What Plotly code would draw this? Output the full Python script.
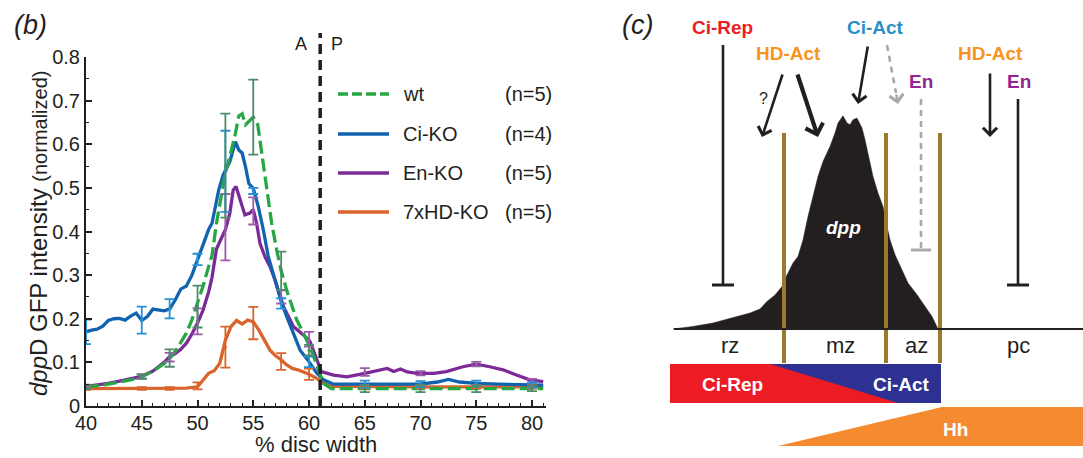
import plotly.graph_objects as go

W, H = 1083, 458
FONT = "Liberation Sans, Arial, Helvetica, sans-serif"
INK = "#231F20"

# ---------------- panel (b): dppD GFP profiles ----------------
series_names = ["wt", "Ci-KO", "En-KO", "7xHD-KO"]
series_n = ["(n=5)", "(n=4)", "(n=5)", "(n=5)"]
series_colors = ["#27A744", "#1163AF", "#7B2A98", "#D9642C"]
errbar_colors = ["#4E8A6A", "#2590D6", "#9B5CA8", "#D9642C"]

wt_x = [40, 41, 42, 43, 44, 45, 46, 47, 47.5, 48, 48.5, 49, 49.5, 50, 50.5, 51, 51.3, 51.7,
        52.2, 52.5, 52.9, 53.4, 53.7, 54.0, 54.3, 54.6, 55.0, 55.4, 55.8, 56.2, 56.65, 57.1,
        57.5, 58.0, 58.3, 58.9, 59.5, 60.2, 60.8, 61.3, 62.0, 65, 70, 75, 80, 81]
wt_y = [0.043, 0.046, 0.05, 0.055, 0.06, 0.067, 0.08, 0.097, 0.109, 0.125, 0.145, 0.167, 0.198,
        0.236, 0.275, 0.32, 0.345, 0.419, 0.495, 0.534, 0.572, 0.625, 0.665, 0.67, 0.645, 0.652,
        0.662, 0.645, 0.572, 0.495, 0.419, 0.358, 0.31, 0.265, 0.243, 0.197, 0.167, 0.128,
        0.086, 0.052, 0.04, 0.04, 0.04, 0.04, 0.04, 0.04]

ci_x = [40, 40.5, 41, 41.5, 42, 42.5, 43, 43.5, 44, 44.5, 45, 45.5, 46, 46.5, 47, 47.5, 48,
        48.5, 49, 49.5, 50, 50.5, 51, 51.3, 51.9, 52.3, 52.9, 53.4, 53.7, 54.0, 54.3, 54.6,
        55.0, 55.45, 55.9, 56.35, 56.8, 57.25, 57.5, 58.0, 58.6, 59.2, 59.9, 60.7, 61.3, 62.2,
        65, 68, 70, 71.5, 72.5, 73.5, 75, 77, 80, 81]
ci_y = [0.17, 0.174, 0.176, 0.183, 0.196, 0.2, 0.201, 0.197, 0.206, 0.213, 0.196, 0.205, 0.222,
        0.22, 0.218, 0.222, 0.243, 0.268, 0.275, 0.3, 0.335, 0.375, 0.405, 0.419, 0.495, 0.53,
        0.56, 0.606, 0.587, 0.58, 0.549, 0.51, 0.499, 0.457, 0.404, 0.342, 0.304, 0.266, 0.24,
        0.205, 0.167, 0.128, 0.105, 0.075, 0.06, 0.05, 0.05, 0.05, 0.05, 0.055, 0.061, 0.055,
        0.052, 0.05, 0.048, 0.048]

en_x = [40, 41, 42, 43, 44, 45, 46, 47, 47.5, 48, 48.5, 49, 49.5, 50, 50.5, 51, 51.3, 51.7,
        52.2, 52.5, 52.9, 53.2, 53.45, 53.8, 54.25, 54.7, 55.0, 55.3, 55.6, 56.05, 56.5, 56.95,
        57.3, 57.7, 58.6, 59.5, 60.1, 60.7, 61.1, 62.2, 63.4, 65, 66.3, 67.0, 67.6, 68.2, 68.8,
        69.7, 71.2, 72.3, 73.8, 75.0, 76.2, 77.4, 78.6, 79.8, 81]
en_y = [0.045, 0.048, 0.052, 0.057, 0.062, 0.068, 0.08, 0.1, 0.113, 0.12, 0.13, 0.144, 0.165,
        0.19, 0.22, 0.262, 0.295, 0.36, 0.388, 0.404, 0.442, 0.495, 0.503, 0.472, 0.438, 0.442,
        0.45, 0.419, 0.373, 0.342, 0.32, 0.289, 0.26, 0.228, 0.182, 0.163, 0.147, 0.105, 0.079,
        0.071, 0.067, 0.075, 0.082, 0.086, 0.079, 0.085, 0.078, 0.075, 0.075, 0.079, 0.09, 0.096,
        0.09, 0.083, 0.071, 0.06, 0.056]

hd_x = [40, 45, 47.5, 49, 50, 50.5, 51, 51.5, 52, 52.5, 53, 53.5, 54, 54.5, 55, 55.5, 56, 56.5,
        57, 57.5, 58, 58.5, 59, 59.5, 60, 60.5, 61, 61.5, 62, 65, 70, 75, 80, 81]
hd_y = [0.04, 0.04, 0.04, 0.041, 0.044, 0.06, 0.075, 0.081, 0.098, 0.151, 0.182, 0.196, 0.188,
        0.197, 0.193, 0.174, 0.151, 0.128, 0.115, 0.106, 0.094, 0.086, 0.083, 0.079, 0.073,
        0.066, 0.058, 0.05, 0.045, 0.044, 0.044, 0.044, 0.044, 0.044]

# mean +/- s.e.m. at the sampled positions
err_x = [40, 45, 47.5, 50, 52.5, 55, 57.5, 60, 65, 70, 75, 80]
wt_mean = [0.043, 0.067, 0.11, 0.228, 0.551, 0.662, 0.31, 0.128, 0.04, 0.04, 0.04, 0.04]
wt_err = [0.004, 0.005, 0.02, 0.048, 0.119, 0.086, 0.044, 0.012, 0.008, 0.008, 0.008, 0.006]
ci_mean = [0.17, 0.197, 0.223, 0.336, 0.538, 0.493, 0.235, 0.101, 0.05, 0.05, 0.052, 0.048]
ci_err = [0.028, 0.031, 0.022, 0.013, 0.093, 0.007, 0.012, 0.012, 0.008, 0.007, 0.006, 0.006]
en_mean = [0.045, 0.068, 0.112, 0.194, 0.41, 0.447, 0.25, 0.153, 0.078, 0.075, 0.096, 0.058]
en_err = [0.004, 0.005, 0.01, 0.03, 0.076, 0.031, 0.015, 0.017, 0.009, 0.005, 0.005, 0.004]
hd_mean = [0.04, 0.04, 0.04, 0.046, 0.135, 0.19, 0.102, 0.073, 0.044, 0.044, 0.044, 0.044]
hd_err = [0.003, 0.003, 0.003, 0.008, 0.047, 0.037, 0.019, 0.013, 0.004, 0.004, 0.004, 0.004]

boundary_ap = 61  # A/P compartment boundary, % disc width

x_ticks = [40, 45, 50, 55, 60, 65, 70, 75, 80]
y_ticks = [0, 0.1, 0.2, 0.3, 0.4, 0.5, 0.6, 0.7, 0.8]

curves = [(wt_x, wt_y), (ci_x, ci_y), (en_x, en_y), (hd_x, hd_y)]
errs = [(wt_mean, wt_err), (ci_mean, ci_err), (en_mean, en_err), (hd_mean, hd_err)]

# ---------------- panel (c): schematic ----------------
# diagram units: x along the disc, y = height above the dpp baseline
dpp_x = [673, 693, 713, 733, 750, 760, 767, 775, 782, 787, 793, 798, 803, 808, 813, 818, 823,
         830, 835, 838, 843, 847, 850, 853, 857, 862, 865, 869, 873, 878, 883, 887, 890, 895,
         902, 908, 917, 925, 932, 938]
dpp_h = [0, 2.6, 6, 11, 16, 20, 27.6, 34, 42.6, 54, 66, 72.6, 89, 112.6, 132.6, 152.6, 167.6,
         182.6, 196, 206, 213.3, 206, 204.3, 209.3, 211, 201, 189.3, 169.3, 152.6, 136, 122.6,
         102.6, 89.3, 74.3, 59.3, 46, 34.3, 22.6, 12.6, 0]

zone_edges = [784, 886, 940]
zone_labels = ["rz", "mz", "az", "pc"]
zone_label_x = [730, 840, 916, 1018]

fig = go.Figure()

# --- panel (b) traces: draw order orange, purple, blue, green
for i in [3, 2, 1, 0]:
    xs, ys = curves[i]
    fig.add_trace(go.Scatter(
        x=xs, y=ys, mode="lines", showlegend=False, hoverinfo="skip",
        line=dict(color=series_colors[i], width=3.3,
                  dash="13px,5px" if i == 0 else "solid"),
        xaxis="x", yaxis="y"))

for i in [3, 2, 1, 0]:
    m, e = errs[i]
    fig.add_trace(go.Scatter(
        x=err_x, y=m, mode="markers", showlegend=False, hoverinfo="skip",
        marker=dict(size=3, color=errbar_colors[i]),
        error_y=dict(type="data", array=e, color=errbar_colors[i], thickness=1.8, width=5),
        xaxis="x", yaxis="y"))

# --- panel (c) filled regions
fig.add_trace(go.Scatter(
    x=dpp_x, y=dpp_h, mode="lines", fill="toself", fillcolor=INK,
    line=dict(color=INK, width=0.5), showlegend=False, hoverinfo="skip",
    xaxis="x2", yaxis="y2"))

ci_bar_left, ci_bar_right, ci_bar_top, ci_bar_bottom = 670, 941, -35, -74
rep_top_x, rep_bottom_x = 770, 898
fig.add_trace(go.Scatter(
    x=[ci_bar_left, ci_bar_right, ci_bar_right, ci_bar_left, ci_bar_left],
    y=[ci_bar_top, ci_bar_top, ci_bar_bottom, ci_bar_bottom, ci_bar_top],
    mode="lines", fill="toself", fillcolor="#2E3192", line=dict(width=0),
    showlegend=False, hoverinfo="skip", xaxis="x2", yaxis="y2"))
fig.add_trace(go.Scatter(
    x=[ci_bar_left, rep_top_x, rep_bottom_x, ci_bar_left, ci_bar_left],
    y=[ci_bar_top, ci_bar_top, ci_bar_bottom, ci_bar_bottom, ci_bar_top],
    mode="lines", fill="toself", fillcolor="#ED1C24", line=dict(width=0),
    showlegend=False, hoverinfo="skip", xaxis="x2", yaxis="y2"))

hh_x = [778, 942, 1083, 1083, 778]
hh_y = [-117, -78, -78, -117, -117]
fig.add_trace(go.Scatter(
    x=hh_x, y=hh_y, mode="lines", fill="toself", fillcolor="#F58A31", line=dict(width=0),
    showlegend=False, hoverinfo="skip", xaxis="x2", yaxis="y2"))


def px(x):
    return x / W


def py(y):
    return 1 - y / H


shapes = []
annotations = []


def paper_text(x, y, text, size, xanchor="center", angle=0):
    annotations.append(dict(xref="paper", yref="paper", x=px(x), y=py(y), text=text,
                            showarrow=False, xanchor=xanchor, yanchor="middle",
                            textangle=angle, font=dict(size=size, color=INK, family=FONT)))


# A/P boundary
shapes.append(dict(type="line", xref="x", yref="paper", x0=boundary_ap, x1=boundary_ap,
                   y0=py(406), y1=py(33), line=dict(color=INK, width=3.5, dash="10px,6px")))

# legend
leg_y = [94, 134, 173, 212]
for i, name in enumerate(series_names):
    shapes.append(dict(type="line", xref="paper", yref="paper", x0=px(338), x1=px(389),
                       y0=py(leg_y[i]), y1=py(leg_y[i]),
                       line=dict(color=series_colors[i], width=3.3,
                                 dash="10px,4px" if i == 0 else "solid")))
    paper_text(401, leg_y[i], name, 20, xanchor="left")
    paper_text(503, leg_y[i], series_n[i], 20, xanchor="left")

paper_text(30, 25, "<i>(b)</i>", 27)
paper_text(301, 44, "A", 18)
paper_text(337, 44, "P", 18)
paper_text(316, 444, "% disc width", 22)
paper_text(38, 234, "<i>dpp</i>D GFP intensity <span style='font-size:20px'>(normalized)</span>",
           24, angle=-90)

# --- panel (c) lines
brown = "#9C7A2B"
for xe in zone_edges:
    shapes.append(dict(type="line", xref="x2", yref="y2", x0=xe, x1=xe, y0=-34, y1=196,
                       line=dict(color=brown, width=4)))
shapes.append(dict(type="line", xref="x2", yref="y2", x0=674, x1=1083, y0=0, y1=0,
                   line=dict(color=INK, width=2)))


def t_bar(x, y_top, y_end, half, color, dash="solid"):
    shapes.append(dict(type="line", xref="x2", yref="y2", x0=x, x1=x, y0=y_top, y1=y_end,
                       line=dict(color=color, width=2.6, dash=dash)))
    shapes.append(dict(type="line", xref="x2", yref="y2", x0=x - half, x1=x + half,
                       y0=y_end, y1=y_end, line=dict(color=color, width=3)))


t_bar(723, 284, 44, 11, INK)
t_bar(921, 230, 79, 10, "#A7A9AC", dash="6px,5px")
t_bar(1018, 230, 44, 11, INK)


def arrow(x_tail, y_tail, x_head, y_head, width, size, color=INK):
    annotations.append(dict(xref="x2", yref="y2", axref="x2", ayref="y2", x=x_head, y=y_head,
                            ax=x_tail, ay=y_tail, text="", showarrow=True, arrowhead=4,
                            arrowsize=size, arrowwidth=width, arrowcolor=color, standoff=0))


arrow(783, 256, 762, 192, 2.6, 1.05)
arrow(797, 256, 818, 192, 4.2, 0.85)
arrow(868, 284, 858, 225, 2.6, 1.05)
arrow(990, 257, 990, 192, 2.6, 1.05)
# dashed grey arrow: dashed shaft plus a short solid head
shapes.append(dict(type="line", xref="x2", yref="y2", x0=887, x1=896, y0=284, y1=236,
                   line=dict(color="#A7A9AC", width=2.6, dash="6px,5px")))
arrow(896, 236, 898, 225, 2.6, 1.05, color="#A7A9AC")


def label(x, y, text, color, size=19, bold=True, italic=False):
    t = text
    if bold:
        t = "<b>" + t + "</b>"
    if italic:
        t = "<i>" + t + "</i>"
    annotations.append(dict(xref="x2", yref="y2", x=x, y=y, text=t, showarrow=False,
                            xanchor="center", yanchor="middle",
                            font=dict(size=size, color=color, family=FONT)))


label(637, 304, "<i>(c)</i>", INK, size=27, bold=False)
label(722, 302, "Ci-Rep", "#ED1C24")
label(788, 276, "HD-Act", "#F7941D")
label(875, 302, "Ci-Act", "#2A8FC7")
label(921, 248, "En", "#92278F")
label(990, 276, "HD-Act", "#F7941D")
label(1019, 248, "En", "#92278F")
label(763, 231, "?", INK, size=16, bold=False)
label(843, 102, "dpp", "white", size=19, italic=True)
for lx, lt in zip(zone_label_x, zone_labels):
    label(lx, -16, lt, INK, size=22, bold=False)
label(732, -55, "Ci-Rep", "white")
label(901, -55, "Ci-Act", "white")
label(955, -100, "Hh", "white")

axis_font = dict(size=20, color=INK, family=FONT)
fig.update_layout(
    width=W, height=H, margin=dict(l=0, r=0, t=0, b=0, pad=0, autoexpand=False),
    paper_bgcolor="white", plot_bgcolor="white", showlegend=False,
    xaxis=dict(domain=[px(86), px(546)], range=[40, 81.25], showgrid=False, zeroline=False,
               showline=True, linecolor=INK, linewidth=2, ticks="inside", ticklen=6,
               tickwidth=1.5, tickcolor=INK, tickvals=x_ticks, tickfont=axis_font,
               ticklabelstandoff=-2,
               minor=dict(ticks="inside", dtick=1, ticklen=3, tickwidth=1.2, tickcolor=INK),
               anchor="y", fixedrange=True, automargin=False),
    yaxis=dict(domain=[py(406), py(57)], range=[0, 0.8], showgrid=False, zeroline=False,
               showline=True, linecolor=INK, linewidth=2, ticks="inside", ticklen=6,
               tickwidth=1.5, tickcolor=INK, tickvals=y_ticks,
               ticktext=[("%g" % v) for v in y_ticks], tickfont=axis_font,
               minor=dict(ticks="inside", dtick=0.05, ticklen=3, tickwidth=1.2, tickcolor=INK),
               anchor="x", fixedrange=True, automargin=False),
    xaxis2=dict(domain=[px(610), 1], range=[610, 1083], visible=False, anchor="y2",
                fixedrange=True, automargin=False),
    yaxis2=dict(domain=[0, 1], range=[329 - 458, 329], visible=False, anchor="x2",
                fixedrange=True, automargin=False),
    shapes=shapes, annotations=annotations,
)

fig.write_html("out.html")
